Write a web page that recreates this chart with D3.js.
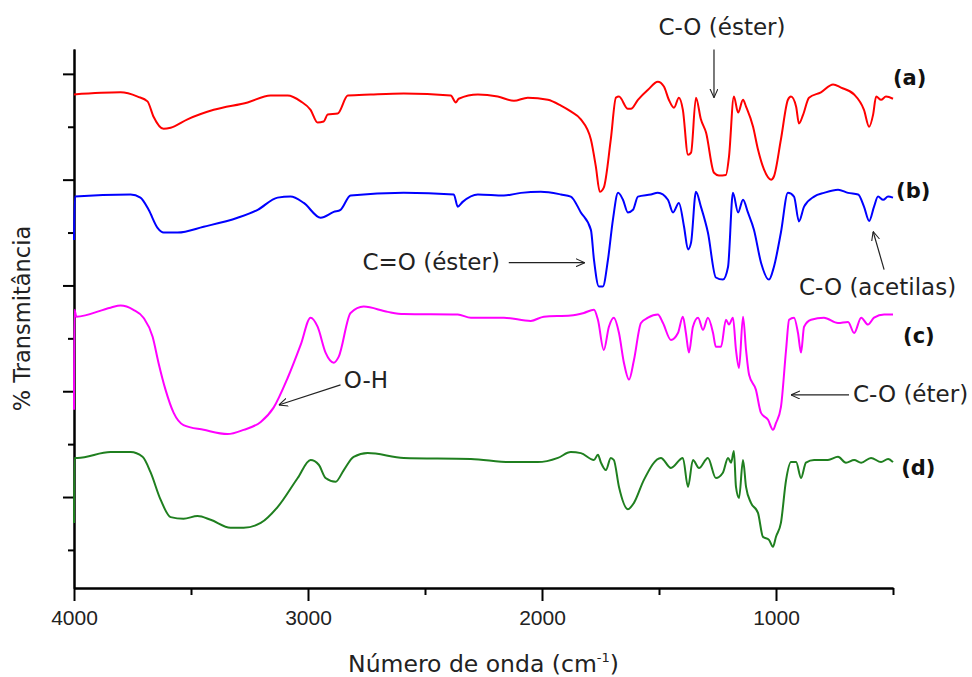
<!DOCTYPE html>
<html>
<head>
<meta charset="utf-8">
<script src="https://cdn.jsdelivr.net/npm/d3@7"></script>
<style>
  body { margin: 0; background: #fff; }
  svg { display: block; font-family: "DejaVu Sans", Verdana, sans-serif; }
</style>
</head>
<body>
<svg id="chart" width="972" height="677"></svg>
<script>
// FTIR spectra, [wavenumber cm-1, %T] (stacked traces)
const specA = [
  [4000, 96.1], [3801, 96.5], [3728, 95.7], [3686, 94.8], [3660, 91.9], [3617, 89.6], [3587, 89.8],
  [3515, 91.4], [3403, 93.2], [3258, 94.6], [3160, 95.9], [3087, 95.9], [3031, 94.8], [2989, 93.2],
  [2959, 90.8], [2933, 91.0], [2916, 92.3], [2873, 92.5], [2830, 95.9], [2732, 96.1], [2591, 96.3],
  [2390, 95.9], [2368, 94.6], [2356, 95.3], [2274, 96.1], [2189, 95.7], [2120, 94.9], [2061, 95.5],
  [1975, 95.1], [1919, 94.0], [1877, 92.9], [1834, 91.4], [1791, 87.6], [1770, 82.5], [1753, 77.7],
  [1736, 78.5], [1706, 87.6], [1684, 95.5], [1671, 95.7], [1633, 93.4], [1620, 93.4], [1590, 95.1],
  [1547, 97.0], [1505, 98.5], [1479, 97.6], [1458, 95.1], [1436, 93.6], [1415, 95.5], [1398, 93.2],
  [1376, 84.7], [1363, 85.1], [1342, 95.5], [1321, 91.4], [1299, 88.9], [1265, 81.3], [1244, 80.8],
  [1214, 80.9], [1201, 84.3], [1180, 95.7], [1162, 92.7], [1141, 95.1], [1128, 93.8], [1098, 90.0],
  [1077, 85.7], [1051, 81.9], [1021, 80.0], [1009, 80.6], [979, 87.6], [949, 95.1], [936, 95.7],
  [914, 93.8], [902, 90.6], [884, 92.3], [859, 95.5], [808, 96.5], [756, 98.0], [722, 97.4],
  [666, 96.1], [624, 93.2], [602, 90.0], [585, 92.3], [572, 95.7], [551, 95.1], [530, 95.7], [500, 95.3]
];

const specB = [
  [4000, 68.6], [3996, 76.8], [3758, 77.2], [3716, 76.6], [3681, 74.3], [3643, 70.9], [3617, 70.0],
  [3557, 70.0], [3446, 71.1], [3301, 72.8], [3215, 74.3], [3130, 76.6], [3075, 76.8], [3018, 75.6],
  [2946, 72.8], [2890, 73.9], [2861, 74.3], [2818, 77.0], [2591, 77.5], [2377, 77.2], [2360, 74.9],
  [2339, 75.8], [2274, 77.2], [2163, 77.0], [2090, 77.5], [2005, 77.7], [1919, 77.2], [1877, 76.8],
  [1834, 73.8], [1791, 70.5], [1778, 64.9], [1757, 59.8], [1740, 59.8], [1718, 64.9], [1697, 72.4],
  [1675, 77.5], [1654, 76.2], [1633, 73.8], [1611, 74.3], [1590, 76.8], [1535, 77.2], [1505, 77.5],
  [1462, 76.2], [1440, 73.8], [1415, 75.6], [1393, 71.1], [1376, 66.8], [1363, 68.1], [1342, 77.7],
  [1321, 74.9], [1291, 70.0], [1257, 61.5], [1227, 61.1], [1205, 63.5], [1184, 77.5], [1162, 73.8],
  [1141, 76.2], [1120, 73.8], [1094, 70.5], [1064, 64.3], [1030, 61.1], [1009, 63.5], [979, 70.0],
  [949, 77.5], [923, 76.8], [902, 72.1], [880, 74.9], [837, 76.8], [795, 77.5], [735, 78.1],
  [692, 77.5], [649, 77.2], [624, 74.9], [602, 72.2], [581, 74.9], [564, 76.8], [542, 76.2],
  [521, 76.8], [500, 76.6]
];

const specC = [
  [4000, 36.5], [3998, 55.4], [3990, 54.1], [3844, 55.8], [3801, 56.2], [3746, 55.4], [3703, 53.9],
  [3664, 50.3], [3639, 45.4], [3609, 40.3], [3574, 35.9], [3532, 33.6], [3446, 32.7], [3344, 31.9],
  [3275, 32.7], [3202, 34.2], [3147, 36.9], [3087, 42.5], [3031, 48.8], [2989, 53.9], [2959, 52.2],
  [2925, 47.3], [2890, 45.4], [2869, 46.5], [2818, 54.8], [2762, 56.0], [2659, 55.0], [2591, 54.6],
  [2360, 54.5], [2304, 53.9], [2163, 53.9], [2048, 53.3], [1992, 54.1], [1877, 54.3], [1821, 54.8],
  [1778, 55.4], [1761, 53.5], [1736, 47.8], [1714, 52.2], [1693, 53.9], [1671, 51.0], [1650, 45.4],
  [1628, 42.2], [1607, 45.9], [1577, 52.9], [1547, 53.9], [1505, 54.5], [1483, 52.9], [1449, 49.7],
  [1419, 51.0], [1398, 54.1], [1385, 51.0], [1372, 47.3], [1355, 52.2], [1333, 53.9], [1312, 51.6],
  [1291, 53.9], [1269, 51.0], [1257, 48.4], [1235, 48.4], [1214, 53.5], [1201, 52.6], [1184, 53.9],
  [1171, 47.8], [1158, 44.4], [1141, 54.1], [1128, 47.8], [1115, 43.1], [1086, 40.3], [1064, 35.9],
  [1034, 34.6], [1013, 32.7], [1000, 34.0], [979, 37.0], [957, 47.8], [944, 53.5], [923, 53.9],
  [906, 51.0], [893, 47.3], [880, 52.2], [850, 53.5], [795, 53.9], [735, 52.9], [692, 53.1],
  [666, 51.0], [636, 53.9], [607, 52.6], [581, 53.9], [538, 54.5], [500, 54.5]
];

const specD = [
  [4000, 15.1], [3998, 27.4], [3985, 27.4], [3844, 28.5], [3758, 28.5], [3707, 27.6], [3673, 24.7],
  [3630, 19.5], [3587, 16.2], [3532, 15.9], [3472, 16.4], [3416, 15.7], [3331, 14.2], [3275, 14.2],
  [3202, 15.1], [3130, 18.1], [3044, 23.6], [2989, 27.0], [2954, 26.1], [2925, 23.6], [2882, 22.9],
  [2847, 25.1], [2805, 27.6], [2745, 28.3], [2591, 27.4], [2304, 27.2], [2133, 26.6], [2018, 26.6],
  [1932, 27.4], [1877, 28.5], [1834, 28.3], [1778, 27.0], [1761, 28.0], [1748, 26.5], [1727, 25.1],
  [1706, 27.4], [1693, 27.0], [1671, 21.9], [1633, 17.7], [1607, 18.9], [1565, 23.2], [1492, 27.4],
  [1449, 25.5], [1398, 27.4], [1376, 21.9], [1355, 27.0], [1329, 25.5], [1291, 27.4], [1257, 23.6],
  [1227, 24.6], [1205, 27.4], [1192, 26.5], [1180, 28.7], [1171, 21.9], [1158, 19.8], [1141, 27.0],
  [1128, 21.9], [1107, 18.9], [1077, 17.0], [1056, 12.5], [1030, 11.9], [1013, 10.6], [1000, 12.5],
  [979, 15.1], [957, 23.2], [936, 26.6], [914, 26.6], [893, 23.6], [872, 26.5], [837, 27.0],
  [778, 27.0], [735, 27.6], [701, 26.5], [666, 27.0], [636, 26.5], [594, 27.4], [551, 26.6],
  [521, 27.2], [500, 26.6]
];

const seriesNames = ["(a)", "(b)", "(c)", "(d)"];
const seriesColors = ["#ff0000", "#0000ff", "#ff00ff", "#1f7f1f"];
const seriesLabelPos = [[500, 97.8], [487, 76.6], [457, 49.2], [465, 24.2]];

const xMajor = [4000, 3000, 2000, 1000];
const xMinor = [3500, 2500, 1500, 500];
const yMajor = [20, 40, 60, 80, 100];
const yMinor = [10, 30, 50, 70, 90];

// peak assignments: text anchor + arrow (all in data units)
const annotations = [
  { text: "C-O (éster)", at: [1231, 107.4], anchor: "middle", from: [1265, 104.6], to: [1265, 95.5] },
  { text: "C=O (éster)", at: [2180, 63.0], anchor: "end", from: [2142, 64.3], to: [1817, 64.3] },
  { text: "C-O (acetilas)", at: [566, 58.2], anchor: "middle", from: [538, 63.0], to: [585, 70.2] },
  { text: "C-O (éter)", at: [671, 38.0], anchor: "start", from: [688, 39.3], to: [936, 39.3] },
  { text: "O-H", at: [2847, 40.6], anchor: "start", from: [2861, 41.2], to: [3125, 37.4] }
];

const svg = d3.select("#chart");

const x = d3.scaleLinear().domain([4000, 500]).range([74, 893]);
const y = d3.scaleLinear().domain([2.8, 104.7]).range([588, 49]);

// arrow head (open V)
svg.append("defs").append("marker")
  .attr("id", "arrow")
  .attr("viewBox", "0 0 10 10")
  .attr("refX", 10).attr("refY", 5)
  .attr("markerWidth", 9).attr("markerHeight", 9)
  .attr("markerUnits", "userSpaceOnUse")
  .attr("orient", "auto")
  .append("path")
  .attr("d", "M0,0.5 L10,5 L0,9.5")
  .attr("fill", "none")
  .attr("stroke", "#222")
  .attr("stroke-width", 1.2);

// axes
const styleAxis = g => {
  g.select(".domain").attr("stroke", "#000").attr("stroke-width", 2);
  g.selectAll(".tick line").attr("stroke", "#000").attr("stroke-width", 2);
  g.selectAll("text").attr("fill", "#222").style("font-size", "21px");
};

svg.append("g")
  .attr("transform", "translate(0,588)")
  .call(d3.axisBottom(x).tickValues(xMinor).tickSize(7).tickSizeOuter(0).tickFormat(""))
  .call(styleAxis);

svg.append("g")
  .attr("transform", "translate(0,588)")
  .call(d3.axisBottom(x).tickValues(xMajor).tickSize(13).tickSizeOuter(0).tickFormat(d3.format("d")))
  .call(styleAxis)
  .call(g => g.selectAll("text").attr("dy", null).attr("y", 37));

svg.append("g")
  .attr("transform", "translate(74,0)")
  .call(d3.axisLeft(y).tickValues(yMinor).tickSize(6).tickSizeOuter(0).tickFormat(""))
  .call(styleAxis);

svg.append("g")
  .attr("transform", "translate(74,0)")
  .call(d3.axisLeft(y).tickValues(yMajor).tickSize(11).tickSizeOuter(0).tickFormat(""))
  .call(styleAxis);

// spectra
const line = d3.line()
  .x(d => x(d[0]))
  .y(d => y(d[1]))
  .curve(d3.curveMonotoneX);

[specA, specB, specC, specD].forEach((spec, i) => {
  svg.append("path")
    .datum(spec)
    .attr("d", line)
    .attr("fill", "none")
    .attr("stroke", seriesColors[i])
    .attr("stroke-width", 2)
    .attr("stroke-linejoin", "round");

  svg.append("text")
    .attr("x", x(seriesLabelPos[i][0]))
    .attr("y", y(seriesLabelPos[i][1]))
    .text(seriesNames[i])
    .style("font-weight", "bold")
    .style("font-size", "21px")
    .attr("fill", "#111");
});

// annotations
annotations.forEach(a => {
  svg.append("line")
    .attr("x1", x(a.from[0])).attr("y1", y(a.from[1]))
    .attr("x2", x(a.to[0])).attr("y2", y(a.to[1]))
    .attr("stroke", "#222")
    .attr("stroke-width", 1.2)
    .attr("marker-end", "url(#arrow)");

  svg.append("text")
    .attr("x", x(a.at[0]))
    .attr("y", y(a.at[1]))
    .attr("text-anchor", a.anchor)
    .text(a.text)
    .style("font-size", "23px")
    .attr("fill", "#222");
});

// axis titles
const xTitle = svg.append("text")
  .attr("x", (x(4000) + x(500)) / 2)
  .attr("y", 672)
  .attr("text-anchor", "middle")
  .style("font-size", "23.5px")
  .attr("fill", "#222");
xTitle.append("tspan").text("Número de onda (cm");
xTitle.append("tspan").text("-1").attr("dy", -10).style("font-size", "13px");
xTitle.append("tspan").text(")").attr("dy", 10);

svg.append("text")
  .attr("transform", `translate(30,${(y.range()[0] + y.range()[1]) / 2}) rotate(-90)`)
  .attr("text-anchor", "middle")
  .style("font-size", "22.5px")
  .attr("fill", "#222")
  .text("% Transmitância");
</script>
</body>
</html>
